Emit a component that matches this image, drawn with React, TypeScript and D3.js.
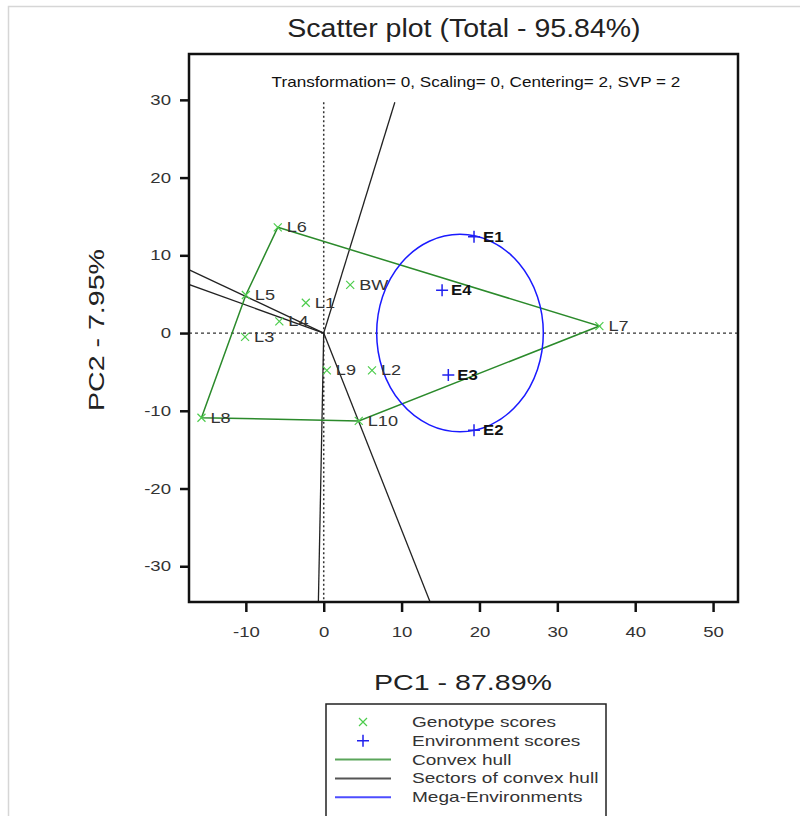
import * as d3 from "d3";
import React, { useEffect, useRef } from "react";

// genotype scores (PC1, PC2)
const genotypes = ["L1", "L2", "L3", "L4", "L5", "L6", "L7", "L8", "L9", "L10", "BW"];
const genoPC1 = [-2.3, 6.2, -10.1, -5.7, -10.0, -5.9, 35.4, -15.7, 0.4, 4.5, 3.4];
const genoPC2 = [3.9, -4.8, -0.5, 1.5, 4.9, 13.6, 0.9, -10.9, -4.8, -11.3, 6.2];

// environment scores
const environments = ["E1", "E2", "E3", "E4"];
const envPC1 = [19.3, 19.3, 16.0, 15.2];
const envPC2 = [12.4, -12.5, -5.4, 5.5];

// convex hull vertices, in drawing order
const hullOrder = ["L6", "L7", "L10", "L8", "L5"];

// mega-environment ellipse (center, radii in data units)
const megaCenter = [17.5, 0];
const megaRadius = [10.7, 12.7];

const xTicks = [-10, 0, 10, 20, 30, 40, 50];
const yTicks = [-30, -20, -10, 0, 10, 20, 30];
const xDomain = [-17.3, 53.2];
const yDomain = [-34.6, 35.9];
const refLineTop = 29.7;

const legendLabels = [
  "Genotype scores",
  "Environment scores",
  "Convex hull",
  "Sectors of convex hull",
  "Mega-Environments",
];

const FONT = "'Liberation Sans', Arial, sans-serif";

// the source renders its text noticeably wider than Arial
const stretch = (sel: d3.Selection<any, any, any, any>, k: number) => {
  sel.each(function () {
    const node = this as SVGTextElement;
    const w = node.getComputedTextLength();
    d3.select(node).attr("textLength", w * k).attr("lengthAdjust", "spacingAndGlyphs");
  });
};

export default function App() {
  const ref = useRef<SVGSVGElement | null>(null);

  useEffect(() => {
    const svg = d3.select(ref.current);
    svg.selectAll("*").remove();

    const width = 800;
    const height = 816;
    svg.attr("width", width).attr("height", height).style("font-family", FONT);

    // outer light frame
    svg
      .append("rect")
      .attr("x", 8.5)
      .attr("y", 6.5)
      .attr("width", 900)
      .attr("height", 900)
      .attr("fill", "none")
      .attr("stroke", "#d6d6d6")
      .attr("stroke-width", 1.5);

    const left = 189;
    const right = 738;
    const top = 54;
    const bottom = 602;

    const x = d3.scaleLinear().domain(xDomain).range([left, right]);
    const y = d3.scaleLinear().domain(yDomain).range([bottom, top]);

    const title = svg
      .append("text")
      .attr("x", 464)
      .attr("y", 37)
      .attr("text-anchor", "middle")
      .attr("font-size", 25)
      .attr("fill", "#222")
      .text("Scatter plot (Total - 95.84%)");
    stretch(title, 1.14);

    svg
      .append("defs")
      .append("clipPath")
      .attr("id", "plot-clip")
      .append("rect")
      .attr("x", left)
      .attr("y", top)
      .attr("width", right - left)
      .attr("height", bottom - top);

    const plot = svg.append("g").attr("clip-path", "url(#plot-clip)");

    const sub = plot
      .append("text")
      .attr("x", 476)
      .attr("y", 87)
      .attr("text-anchor", "middle")
      .attr("font-size", 15)
      .attr("fill", "#111")
      .text("Transformation= 0, Scaling= 0, Centering= 2, SVP = 2");
    stretch(sub, 1.14);

    // reference lines through the origin
    plot
      .append("line")
      .attr("x1", x(xDomain[0]))
      .attr("x2", x(xDomain[1]))
      .attr("y1", y(0))
      .attr("y2", y(0))
      .attr("stroke", "#333")
      .attr("stroke-width", 1.2)
      .attr("stroke-dasharray", "3,3");

    plot
      .append("line")
      .attr("x1", x(0))
      .attr("x2", x(0))
      .attr("y1", y(refLineTop))
      .attr("y2", y(yDomain[0]))
      .attr("stroke", "#333")
      .attr("stroke-width", 1.5)
      .attr("stroke-dasharray", "2,2.5");

    const geno = genotypes.map((g, i) => ({ label: g, pc1: genoPC1[i], pc2: genoPC2[i] }));
    const env = environments.map((e, i) => ({ label: e, pc1: envPC1[i], pc2: envPC2[i] }));
    const hull = hullOrder.map((h) => geno.find((g) => g.label === h)!);

    // sector lines: perpendicular from origin to each hull edge
    const rays = hull.map((a, i) => {
      const b = hull[(i + 1) % hull.length];
      const dx = b.pc1 - a.pc1;
      const dy = b.pc2 - a.pc2;
      const t = -(a.pc1 * dx + a.pc2 * dy) / (dx * dx + dy * dy);
      const fx = a.pc1 + t * dx;
      const fy = a.pc2 + t * dy;
      const len = Math.hypot(fx, fy);
      let k = 200 / len;
      if (fy > 0) k = Math.min(k, refLineTop / fy);
      return [fx * k, fy * k];
    });

    plot
      .selectAll("line.sector")
      .data(rays)
      .enter()
      .append("line")
      .attr("class", "sector")
      .attr("x1", x(0))
      .attr("y1", y(0))
      .attr("x2", (d) => x(d[0]))
      .attr("y2", (d) => y(d[1]))
      .attr("stroke", "#222")
      .attr("stroke-width", 1.3);

    plot
      .append("path")
      .datum(hull)
      .attr(
        "d",
        d3
          .line<{ pc1: number; pc2: number }>()
          .x((d) => x(d.pc1))
          .y((d) => y(d.pc2))
          .curve(d3.curveLinearClosed) as any
      )
      .attr("fill", "none")
      .attr("stroke", "#2b8a2b")
      .attr("stroke-width", 1.5);

    plot
      .append("ellipse")
      .attr("cx", x(megaCenter[0]))
      .attr("cy", y(megaCenter[1]))
      .attr("rx", x(megaCenter[0] + megaRadius[0]) - x(megaCenter[0]))
      .attr("ry", y(megaCenter[1]) - y(megaCenter[1] + megaRadius[1]))
      .attr("fill", "none")
      .attr("stroke", "#1a1aff")
      .attr("stroke-width", 1.5);

    // genotype markers
    const gg = plot
      .selectAll("g.geno")
      .data(geno)
      .enter()
      .append("g")
      .attr("class", "geno")
      .attr("transform", (d) => `translate(${x(d.pc1)},${y(d.pc2)})`);
    gg.append("path")
      .attr("d", "M-4,-4L4,4M-4,4L4,-4")
      .attr("stroke", "#4ccc4c")
      .attr("stroke-width", 1.2);
    stretch(
      gg
        .append("text")
        .attr("x", 9)
        .attr("y", 5)
        .attr("font-size", 14.5)
        .attr("fill", "#333")
        .text((d) => d.label),
      1.25
    );

    const eg = plot
      .selectAll("g.env")
      .data(env)
      .enter()
      .append("g")
      .attr("class", "env")
      .attr("transform", (d) => `translate(${x(d.pc1)},${y(d.pc2)})`);
    eg.append("path")
      .attr("d", "M-6,0L6,0M0,-6L0,6")
      .attr("stroke", "#2020ee")
      .attr("stroke-width", 1.5);
    stretch(
      eg
        .append("text")
        .attr("x", 9)
        .attr("y", 5)
        .attr("font-size", 14.5)
        .attr("font-weight", "bold")
        .attr("fill", "#111")
        .text((d) => d.label),
      1.15
    );

    // frame and ticks
    svg
      .append("rect")
      .attr("x", left)
      .attr("y", top)
      .attr("width", right - left)
      .attr("height", bottom - top)
      .attr("fill", "none")
      .attr("stroke", "#111")
      .attr("stroke-width", 2.5);

    const xAxis = svg
      .append("g")
      .attr("transform", `translate(0,${bottom})`)
      .call(
        d3
          .axisBottom(x)
          .tickValues(xTicks)
          .tickFormat((d) => String(d))
          .tickSize(10)
          .tickPadding(15)
          .tickSizeOuter(0)
      );
    xAxis.select(".domain").remove();
    xAxis.selectAll("line").attr("stroke", "#111").attr("stroke-width", 2.5);
    xAxis.selectAll("text").attr("font-size", 14.5).attr("fill", "#333").attr("font-family", FONT);
    stretch(xAxis.selectAll("text"), 1.28);

    const yAxis = svg
      .append("g")
      .attr("transform", `translate(${left},0)`)
      .call(
        d3
          .axisLeft(y)
          .tickValues(yTicks)
          .tickFormat((d) => String(d))
          .tickSize(9)
          .tickPadding(9)
          .tickSizeOuter(0)
      );
    yAxis.select(".domain").remove();
    yAxis.selectAll("line").attr("stroke", "#111").attr("stroke-width", 2.5);
    yAxis.selectAll("text").attr("font-size", 14.5).attr("fill", "#333").attr("font-family", FONT);
    stretch(yAxis.selectAll("text"), 1.28);

    const xLabel = svg
      .append("text")
      .attr("x", 463)
      .attr("y", 690)
      .attr("text-anchor", "middle")
      .attr("font-size", 22.5)
      .attr("fill", "#222")
      .text("PC1 - 87.89%");
    stretch(xLabel, 1.27);

    const yLabel = svg
      .append("text")
      .attr("transform", `translate(104,330) rotate(-90)`)
      .attr("text-anchor", "middle")
      .attr("font-size", 22.5)
      .attr("fill", "#222")
      .text("PC2 - 7.95%");
    stretch(yLabel, 1.27);

    // legend
    const legend = svg.append("g").attr("transform", "translate(326,704)");
    legend
      .append("rect")
      .attr("x", 0)
      .attr("y", 0)
      .attr("width", 280)
      .attr("height", 130)
      .attr("fill", "white")
      .attr("stroke", "#222")
      .attr("stroke-width", 1.5);

    legendLabels.forEach((label, i) => {
      const cy = 18 + i * 18.8;
      if (i === 0) {
        legend
          .append("path")
          .attr("d", `M33,${cy - 4}L41,${cy + 4}M33,${cy + 4}L41,${cy - 4}`)
          .attr("stroke", "#4ccc4c")
          .attr("stroke-width", 1.2);
      } else if (i === 1) {
        legend
          .append("path")
          .attr("d", `M31,${cy}L43,${cy}M37,${cy - 6}L37,${cy + 6}`)
          .attr("stroke", "#2020ee")
          .attr("stroke-width", 1.5);
      } else {
        legend
          .append("line")
          .attr("x1", 9)
          .attr("x2", 65)
          .attr("y1", cy)
          .attr("y2", cy)
          .attr("stroke", ["#5aa55a", "#555", "#4d4dff"][i - 2])
          .attr("stroke-width", 2);
      }
      stretch(
        legend
          .append("text")
          .attr("x", 86)
          .attr("y", cy + 5)
          .attr("font-size", 15)
          .attr("fill", "#333")
          .text(label),
        1.27
      );
    });
  }, []);

  return <svg ref={ref} style={{ position: "absolute", left: 0, top: 0 }} />;
}
